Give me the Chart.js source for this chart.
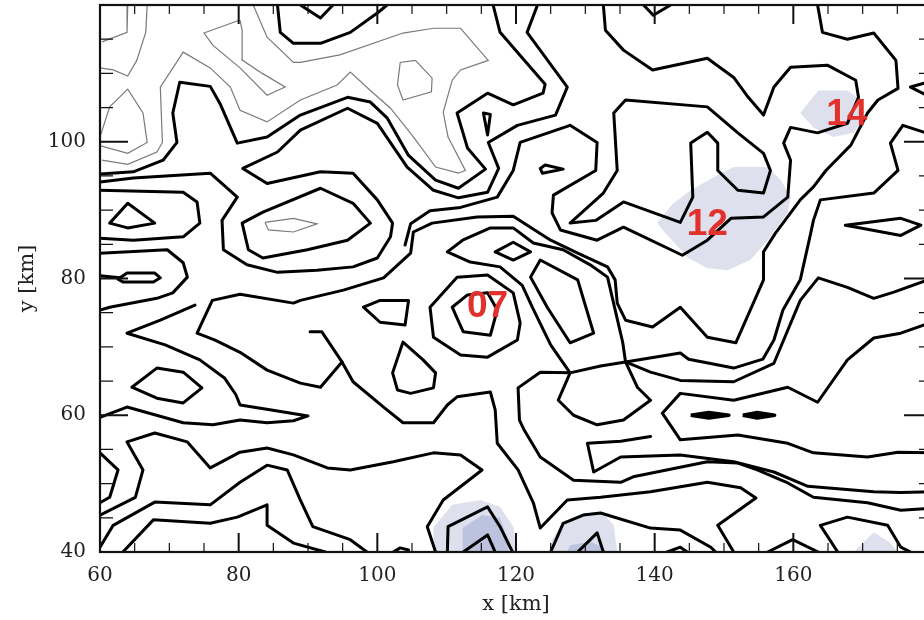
<!DOCTYPE html>
<html>
<head>
<meta charset="utf-8">
<script src="https://cdn.jsdelivr.net/npm/chart.js@4.4.1/dist/chart.umd.min.js"></script>
<style>
  html, body { margin: 0; padding: 0; background: #fff; overflow: hidden; }
  canvas { display: block; }
</style>
</head>
<body>
<canvas id="contour" width="932" height="620"></canvas>
<script>
// axes (km)
const xRange = [60, 180]
const yRange = [40, 120]
const xTickLabels = [60, 80, 100, 120, 140, 160]
const yTickLabels = [40, 60, 80, 100]

// thin contours, upper left
const thinA = [[64.0,120],[63.9,116.0],[60.3,114.6]]
const thinB = [[66.8,120],[66.6,116.0],[65.3,111.9],[64.0,109.6],[61.9,110.5],[60,110.8]]
const thinC = [[60.1,101.0],[61.4,105.1],[64.0,107.7],[66.2,104.2],[66.8,99.9],[64.0,98.3],[60.1,99.4]]
const thinD = [[60.3,97.3],[64.0,96.7],[68.2,98.5],[69.0,99.9],[68.7,108.0],[72.0,113.1],[75.9,110.8],[78.8,108.0],[80.2,104.6],[84.1,102.9],[88.9,106.1],[94.2,108.3],[96.1,110.2],[99.0,107.5],[101.9,104.9],[105.2,100.7],[108.4,96.3],[111.7,95.4],[112.7,95.8],[110.2,100.7],[109.5,104.3],[110.8,109.0],[112.0,110.5],[116.0,111.9],[112.0,116.6],[108.1,116.6],[103.7,115.9],[94.6,112.7],[88.9,111.6],[87.9,111.6],[84.1,115.3],[82.1,120]]
const thinE = [[80.2,117.8],[75.0,115.9],[76.3,114.1],[80.2,110.8],[84.1,106.8],[86.7,108.0],[83.4,110.0],[80.6,111.9],[80.5,116.3],[80.2,117.8]]
const thinF = [[105.5,111.9],[103.3,111.6],[102.9,108.3],[103.7,106.1],[107.8,107.3],[107.9,109.3],[105.5,111.9]]
const thinG = [[83.8,88.2],[87.9,88.8],[91.3,88.0],[87.9,86.8],[84.3,87.1],[83.8,88.2]]

// thick contours
const ridgeTop = [[85.6,120],[86.0,116.0],[87.9,114.4],[91.8,114.4],[96.1,116.0],[100.1,118.9],[101.4,120]]
const notchTop = [[88.9,120],[91.8,118.1],[93.6,120]]
const notchTop2 = [[138.4,120],[139.8,118.5],[142.3,120]]
const lineA = [[60,95.3],[64.8,95.6],[69.1,97.3],[71.1,99.9],[70.5,104.2],[71.5,108.7],[75.9,108.1],[77.3,105.6],[79.8,99.8],[84.1,100.7],[88.9,103.9],[95.7,106.5],[99.0,105.8],[101.4,103.5],[104.5,98.0],[108.4,94.4],[111.7,93.2],[115.6,96.0],[113.0,99.1],[111.5,104.2],[115.9,107.1],[119.6,105.4],[123.9,107.1],[124.2,108.4],[117.7,116.0],[116.7,120]]
const lineB = [[60,94.1],[64.8,94.7],[75.9,95.4],[79.8,91.9],[77.6,88.5],[77.8,84.2],[81.2,82.0],[85.6,80.9],[91.3,81.2],[96.5,81.7],[100.0,83.0],[101.9,86.1],[102.2,88.1],[100.0,91.5],[96.5,95.4],[91.8,95.6],[84.1,93.9],[80.6,96.1],[85.6,98.5],[88.9,101.7],[95.7,104.9],[100.0,102.7],[104.3,96.3],[108.1,92.9],[111.7,91.8],[115.9,92.6],[117.5,96.1],[116.0,99.9],[120.2,102.4],[125.7,103.9],[127.4,108.0],[121.6,116.0],[123.1,120]]
const ringInner = [[80.5,88.1],[83.5,89.7],[91.8,93.2],[96.5,91.0],[99.0,88.1],[95.7,85.6],[89.9,84.2],[83.5,83.0],[81.4,84.2],[80.5,88.1]]
const uLeft = [[60,92.9],[72.0,92.6],[74.0,91.2],[74.4,88.1],[72.0,86.1],[64.8,85.6],[60,85.9]]
const triLeft = [[61.4,88.1],[64.0,91.0],[67.9,88.1],[64.0,87.4],[61.4,88.1]]
const uLeft2 = [[60,83.7],[69.7,84.2],[72.0,82.3],[72.6,80.2],[70.5,77.9],[68.2,77.1],[61.4,75.8],[60,75.4]]
const loopLeft = [[60,80.4],[62.9,80.1],[63.9,80.8],[67.9,80.8],[68.7,80.1],[67.7,79.5],[63.3,79.5],[62.6,79.9]]
const drop = [[115.3,104.2],[116.3,104.0],[115.9,101.0],[115.3,104.2]]
const eyeA = [[123.5,96.1],[124.2,96.6],[126.8,96.0],[123.8,95.4],[123.5,96.1]]
const lineC = [[104.0,84.9],[104.8,88.0],[107.6,89.9],[112.0,90.4],[117.3,91.9],[119.6,95.8],[120.6,99.9],[127.8,102.4],[131.7,99.9],[131.5,95.8],[125.4,92.2],[125.2,89.6],[126.4,87.1],[131.7,85.6],[135.5,87.5],[144.0,83.4],[147.6,85.6],[151.0,88.8],[155.7,89.0],[159.2,91.9],[159.6,97.3],[158.6,99.8],[159.6,102.1],[163.5,101.3],[167.8,102.7],[169.4,106.5],[169.0,109.0],[164.9,111.2],[159.6,110.9],[157.2,108.0],[155.7,103.9],[153.5,106.5],[151.4,109.4],[147.6,112.2],[139.7,110.5],[135.5,113.4],[132.9,116.3],[132.6,120]]
const lineK = [[94.9,67.8],[91.8,64.1],[88.9,64.7],[84.1,66.6],[80.2,69.2],[76.6,71.0],[74.0,72.0],[76.2,76.8],[80.2,77.7],[87.9,76.4],[88.9,76.8],[95.1,78.3],[100.9,80.1],[104.8,83.7],[105.2,86.8],[107.9,88.1],[114.4,89.0],[119.6,89.1],[125.0,85.6],[128.9,83.7],[133.2,81.7],[134.3,79.8],[134.6,76.4],[135.8,73.9],[139.7,72.9],[143.7,75.8],[147.6,71.4],[151.7,70.6],[153.8,75.4],[155.7,79.8],[155.7,83.9],[157.4,86.6],[161.0,91.5],[162.9,93.4],[164.7,95.8],[168.3,99.5],[170.7,104.2],[172.2,106.1],[175.1,107.8],[174.8,111.9],[171.6,115.9],[167.8,115.0],[164.2,116.0],[163.5,120]]
const ringK = [[110.1,83.9],[112.3,85.6],[116.3,87.4],[119.6,87.4],[122.5,85.2],[126.8,84.2],[130.7,82.0],[133.2,80.2],[134.3,75.4],[135.4,70.6],[135.8,67.8],[132.2,67.2],[127.8,66.2],[125.0,70.3],[122.4,75.7],[120.9,79.0],[117.7,81.7],[113.4,82.4],[110.1,83.9]]
const cellOuter = [[107.6,75.8],[111.5,80.2],[115.9,80.5],[119.6,77.9],[120.6,73.5],[120.2,71.0],[115.9,68.5],[112.0,68.8],[108.1,71.4],[107.6,75.8]]
const cellInner = [[110.8,75.8],[113.0,77.6],[115.9,77.9],[117.3,75.4],[116.3,71.7],[112.4,72.2],[111.5,74.2],[110.8,75.8]]
const diamond = [[117.0,83.9],[119.6,85.3],[122.1,83.9],[119.6,82.7],[117.0,83.9]]
const ovalEast = [[122.1,80.2],[123.5,82.7],[128.9,79.8],[131.2,72.0],[127.8,70.6],[124.5,75.8],[122.1,80.2]]
const loopMid = [[98.0,75.8],[100.4,76.8],[104.5,76.8],[104.0,73.2],[100.4,73.6],[98.0,75.8]]
const triMid = [[103.7,70.7],[102.2,66.2],[102.9,63.7],[104.8,63.2],[108.1,64.0],[108.4,66.2],[106.6,68.1],[103.7,70.7]]
const loopD = [[134.1,104.2],[135.8,106.1],[147.6,105.1],[152.0,101.3],[155.7,98.3],[156.7,95.8],[155.7,92.5],[152.0,92.9],[149.1,95.8],[149.1,99.8],[147.6,101.4],[145.2,99.8],[145.5,91.9],[143.7,88.2],[135.5,91.2],[131.5,88.5],[127.8,88.1],[132.6,92.5],[134.6,95.8],[134.1,104.2]]
const lineE = [[135.8,67.8],[143.7,69.1],[144.9,68.2],[151.4,66.9],[155.6,68.2],[157.2,71.0],[158.5,75.4],[161.0,79.8],[162.5,86.6],[162.9,88.5],[163.9,91.5],[171.6,92.5],[175.1,95.8],[174.0,99.8],[175.8,102.4],[180,101.0]]
const lineH = [[135.8,67.8],[139.4,66.3],[143.7,65.1],[151.4,64.9],[157.2,67.6],[161.0,76.8],[163.6,80.1],[167.8,78.7],[171.6,77.1],[174.5,78.0],[180,80.0]]
const lineG = [[180,73.6],[175.5,72.0],[171.6,71.3],[167.8,68.1],[163.5,61.9],[159.2,64.1],[151.4,62.2],[143.7,63.2],[141.1,60.3],[143.7,56.4],[152.0,57.1],[159.2,55.9],[162.9,54.5],[170.7,53.9],[175.1,54.6],[180,54.5]]
const eyeB = [[145.2,60.0],[147.8,60.4],[150.7,60.0],[147.8,59.6],[145.2,60.0]]
const eyeC = [[152.7,60.0],[154.8,60.4],[157.3,60.0],[154.8,59.6],[152.7,60.0]]
const eyeD = [[167.5,87.8],[175.5,88.8],[178.4,87.8],[175.5,86.3],[169.7,87.4],[167.5,87.8]]
const tipRight = [[180,108.9],[176.9,108.0],[180,106.4]]
const lineH1 = [[139.4,56.9],[135.1,56.2],[130.3,55.9],[131.2,51.7],[135.1,53.9],[143.7,54.2],[151.4,53.2],[157.2,51.7],[162.1,49.6],[171.6,48.8],[175.5,48.7],[180,48.8]]
const lineL = [[127.8,66.2],[123.5,66.3],[120.3,64.0],[120.5,59.3],[121.2,57.8],[123.5,53.9],[128.3,50.5],[135.1,50.2],[136.9,51.0],[147.6,53.2],[152.0,53.0],[154.8,52.0],[159.2,50.1],[162.9,48.0],[170.7,47.2],[175.5,46.1],[180,46.4]]
const loopF = [[127.8,66.2],[126.1,62.2],[128.3,60.0],[131.7,58.6],[135.5,59.3],[139.4,62.2],[137.5,64.1],[135.8,67.8]]
const lineU = [[90.3,72.2],[92.0,72.2],[94.9,67.8],[96.5,64.9],[100.9,61.2],[103.7,58.9],[108.1,58.9],[110.1,61.5],[111.5,62.7],[116.3,63.4],[117.0,60.8],[117.3,55.9],[120.3,52.0],[122.5,47.2],[123.5,43.5],[127.4,47.6],[132.2,48.0],[139.4,48.8],[147.6,50.2],[152.4,49.4],[154.6,47.9],[149.1,43.9],[151.4,40]]
const lineZ = [[60,59.7],[63.9,61.2],[72.0,58.9],[76.3,58.6],[80.2,59.3],[84.1,58.9],[87.9,59.2],[90.0,59.9],[84.5,60.8],[80.2,61.5],[79.6,63.0],[78.0,65.4],[74.4,68.1],[69.4,70.3],[63.9,72.0],[68.7,73.9],[73.7,76.1]]
const hexLeft = [[64.6,64.1],[68.2,66.9],[72.0,66.3],[74.7,64.0],[72.0,61.8],[68.2,62.5],[64.6,64.1]]
const lowA = [[60,45.4],[65.1,48.0],[66.2,52.0],[63.9,56.1],[67.9,57.4],[72.6,56.1],[75.9,52.3],[80.2,54.6],[84.1,55.2],[87.9,54.2],[92.8,52.3],[96.1,52.0],[102.3,53.2],[108.1,54.5],[112.0,54.2],[115.1,52.0],[109.5,47.6],[107.2,43.7],[108.4,40]]
const lowB = [[60,54.5],[62.6,52.0],[61.4,48.0],[60,47.2]]
const lowC = [[60,40.7],[61.9,43.9],[67.9,47.3],[75.9,46.9],[80.2,50.2],[84.1,52.7],[87.0,52.0],[88.9,47.6],[90.7,43.7],[96.1,41.8],[98.5,40]]
const lowD = [[63.3,40],[67.7,44.7],[75.9,44.2],[79.8,45.1],[84.1,46.9],[84.1,43.9],[87.9,41.3],[92.5,40]]
const lowBlob = [[102.3,40],[103.3,40.6],[104.5,40.3]]
const lowE = [[110.1,40],[110.2,43.7],[115.9,46.6],[117.7,43.7],[119.5,40]]
const lowF = [[112.4,40],[115.9,42.5],[117.0,40]]
const lowG = [[125.0,40],[126.8,44.2],[129.7,45.4],[132.2,45.7],[139.4,43.5],[143.7,43.2],[148.1,40.7],[148.8,40]]
const lowH = [[128.9,40],[131.7,42.8],[132.6,40]]
const lowI = [[141.8,40],[143.7,40.7],[144.7,40]]
const lowJ = [[156.3,40],[159.9,41.8],[163.6,40]]
const lowK = [[166.4,40],[163.9,43.9],[167.8,45.1],[173.6,43.9],[175.5,40.7],[176.9,40]]

// shaded patches
const patch12 = [[140.4,88.2],[142.7,91.0],[145.2,92.9],[148.5,94.8],[151.4,96.3],[156.3,96.3],[158.2,94.4],[159.6,91.9],[159.2,89.6],[156.3,85.6],[153.8,82.7],[150.5,81.2],[147.6,81.5],[144.7,83.1],[140.8,87.5]]
const patch14 = [[161.0,104.2],[163.6,107.5],[167.8,107.5],[169.7,106.1],[170.1,103.2],[168.7,101.3],[165.8,100.7],[162.9,102.1]]
const patchS1 = [[108.1,40],[108.1,43.6],[110.8,46.9],[114.9,47.6],[117.7,46.6],[119.6,43.7],[120.2,40]]
const patchS2 = [[124.7,40],[125.2,41.8],[126.8,44.3],[129.7,45.7],[132.6,45.6],[134.1,43.9],[134.6,40]]
const patchS3 = [[168.7,40],[171.6,42.9],[174.0,41.3],[175.1,40]]
const patchS1in = [[112.3,43.5],[115.1,45.4],[117.7,45.0],[118.8,41.8],[118.9,40],[112.3,40]]
const patchS2in = [[127.4,40],[127.8,41.0],[130.7,41.5],[132.6,40.7],[132.9,40]]

// cell labels
const cellNames = ['07', '12', '14']
const cellX = [115.9, 147.6, 167.7]
const cellY = [75.8, 87.8, 103.9]

const thinLines = [thinA, thinB, thinC, thinD, thinE, thinF, thinG]
const thickLines = [ridgeTop, notchTop, notchTop2, lineA, lineB, ringInner, uLeft, triLeft, uLeft2, loopLeft,
    drop, eyeA, lineC, lineK, ringK, cellOuter, cellInner, diamond, ovalEast, loopMid, triMid, loopD,
    lineE, lineH, lineG, eyeD, tipRight, lineH1, lineL, loopF, lineU, lineZ, hexLeft,
    lowA, lowB, lowC, lowD, lowBlob, lowE, lowF, lowG, lowH, lowI, lowJ, lowK]
const smallEyes = [eyeB, eyeC]
const lightPatches = [patch12, patch14, patchS1, patchS2, patchS3]
const darkPatches = [patchS1in, patchS2in]

const toPts = arr => arr.map(p => ({x: p[0], y: p[1]}))

let datasets = []
lightPatches.forEach(p => datasets.push({
    data: toPts(p), showLine: true, fill: 'shape', borderWidth: 0,
    backgroundColor: 'rgb(222,225,237)', borderColor: 'rgba(0,0,0,0)', pointRadius: 0, order: 4
}))
darkPatches.forEach(p => datasets.push({
    data: toPts(p), showLine: true, fill: 'shape', borderWidth: 0,
    backgroundColor: 'rgb(188,195,222)', borderColor: 'rgba(0,0,0,0)', pointRadius: 0, order: 3
}))
thinLines.forEach(l => datasets.push({
    data: toPts(l), showLine: true, fill: false, borderWidth: 1.2, borderColor: '#7a7a7a',
    pointRadius: 0, tension: 0, order: 2
}))
thickLines.forEach(l => datasets.push({
    data: toPts(l), showLine: true, fill: false, borderWidth: 3, borderColor: '#000',
    borderJoinStyle: 'round', borderCapStyle: 'round', pointRadius: 0, tension: 0, order: 1
}))
smallEyes.forEach(l => datasets.push({
    data: toPts(l), showLine: true, fill: 'shape', borderWidth: 3.5, borderColor: '#000',
    backgroundColor: '#000', borderJoinStyle: 'round', pointRadius: 0, tension: 0, order: 1
}))

// red cell names on top of the contours
const cellLabels = {
    id: 'cellLabels',
    afterDatasetsDraw(chart) {
        const {ctx, scales: {x, y}} = chart
        ctx.save()
        ctx.font = 'bold 37px "Liberation Sans", Arial, sans-serif'
        ctx.fillStyle = '#e2302c'
        ctx.textAlign = 'center'
        ctx.textBaseline = 'middle'
        cellNames.forEach((t, i) => ctx.fillText(t, x.getPixelForValue(cellX[i]), y.getPixelForValue(cellY[i])))
        ctx.restore()
    }
}

// frame and inward ticks on all four sides
const frameTicks = {
    id: 'frameTicks',
    afterDraw(chart) {
        const {ctx, chartArea: a, scales: {x, y}} = chart
        ctx.save()
        ctx.strokeStyle = '#111'
        for (let v = xRange[0]; v <= xRange[1]; v += 5) {
            const px = x.getPixelForValue(v)
            const major = v % 20 === 0
            const len = major ? 19 : 9
            ctx.lineWidth = major ? 2 : 1.2
            ctx.beginPath()
            ctx.moveTo(px, a.bottom); ctx.lineTo(px, a.bottom - len)
            ctx.moveTo(px, a.top); ctx.lineTo(px, a.top + len)
            ctx.stroke()
        }
        for (let v = yRange[0]; v <= yRange[1]; v += 5) {
            const py = y.getPixelForValue(v)
            const major = v % 20 === 0
            const len = major ? 28 : 13
            ctx.lineWidth = major ? 2 : 1.2
            ctx.beginPath()
            ctx.moveTo(a.left, py); ctx.lineTo(a.left + len, py)
            ctx.moveTo(a.right, py); ctx.lineTo(a.right - len, py)
            ctx.stroke()
        }
        ctx.lineWidth = 2.2
        ctx.strokeRect(a.left, a.top, a.right - a.left, a.bottom - a.top)
        ctx.restore()
    }
}

const serif = 'DejaVu Serif'

new Chart(document.getElementById('contour'), {
    type: 'scatter',
    data: {datasets: datasets},
    options: {
        responsive: false,
        animation: false,
        devicePixelRatio: 1,
        events: [],
        layout: {padding: {top: 5, right: 0, bottom: 0, left: 0}},
        plugins: {legend: {display: false}, tooltip: {enabled: false}},
        scales: {
            x: {
                type: 'linear', min: xRange[0], max: xRange[1],
                grid: {display: false, drawTicks: false},
                border: {display: false},
                ticks: {
                    stepSize: 20, padding: 12, color: '#222', maxRotation: 0, autoSkip: false,
                    font: {family: serif, size: 20},
                    callback: v => xTickLabels.includes(v) ? String(v) : ''
                },
                title: {display: true, text: 'x [km]', color: '#222', font: {family: serif, size: 21}, padding: {top: 0, bottom: 3}},
                afterFit: s => { s.height = 68; s.paddingLeft = 0; s.paddingRight = 0 }
            },
            y: {
                type: 'linear', min: yRange[0], max: yRange[1],
                grid: {display: false, drawTicks: false},
                border: {display: false},
                ticks: {
                    stepSize: 20, padding: 14, color: '#222', autoSkip: false,
                    font: {family: serif, size: 20},
                    callback: v => yTickLabels.includes(v) ? String(v) : ''
                },
                title: {display: true, text: 'y [km]', color: '#222', font: {family: serif, size: 21}, padding: {top: 15, bottom: 0}},
                afterFit: s => { s.width = 100; s.paddingTop = 0; s.paddingBottom = 0 }
            }
        }
    },
    plugins: [cellLabels, frameTicks]
})
</script>
</body>
</html>
